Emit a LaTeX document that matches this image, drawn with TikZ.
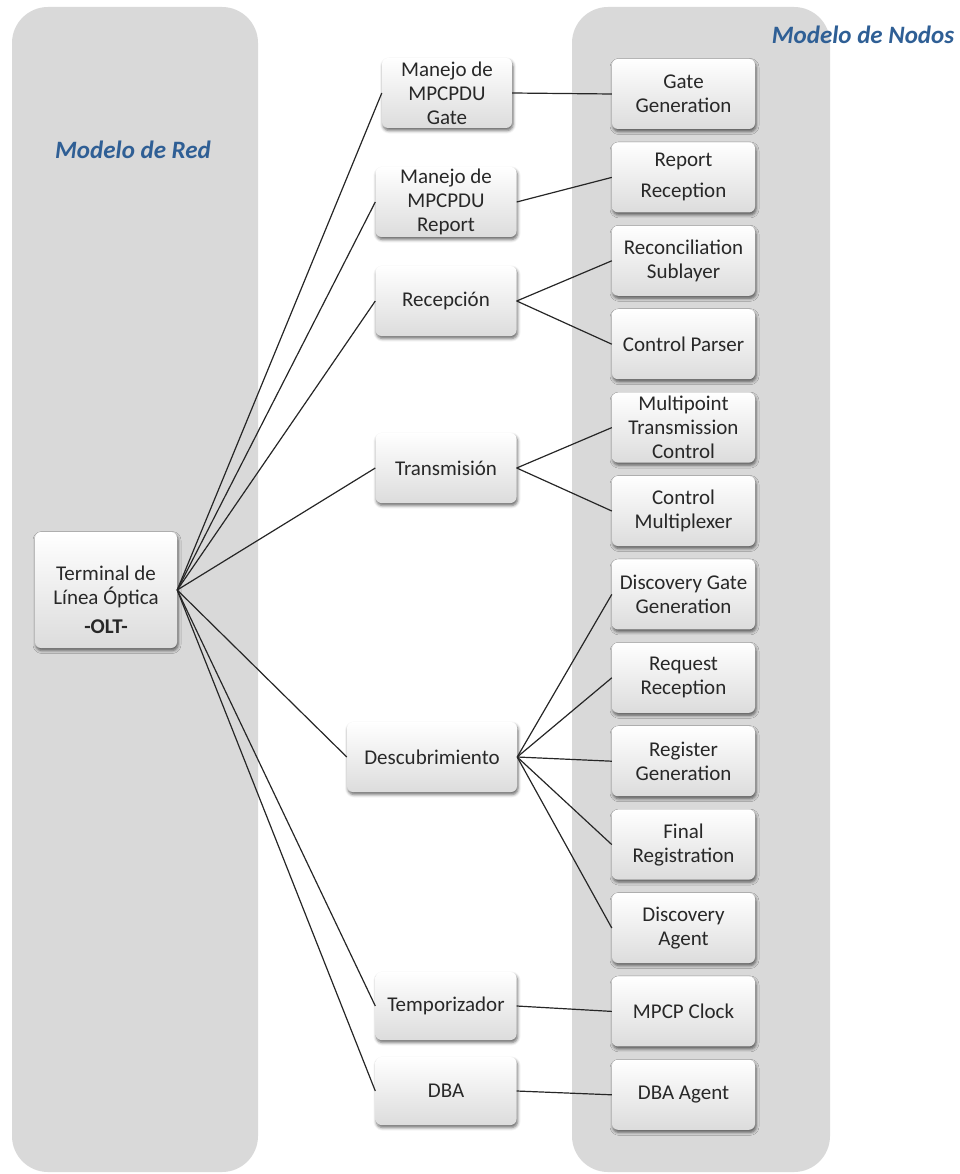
\documentclass[tikz,border=0pt]{standalone}
\usepackage{fontspec}
\setmainfont{Carlito}
\usepackage{tikz}
\usetikzlibrary{positioning,shadows.blur}
\definecolor{panelgray}{RGB}{217,217,217}
\definecolor{titleblue}{RGB}{47,95,149}
\definecolor{boxbottom}{RGB}{220,220,220}
\definecolor{textgray}{RGB}{40,40,40}

\begin{document}
\begin{tikzpicture}[x=1pt,y=-1pt,
    modbox/.style={rounded corners=6pt, top color=white, bottom color=boxbottom, align=center,
        minimum height=70pt, inner sep=0pt, text=textgray, font=\fontsize{21}{24}\selectfont,
        blur shadow={shadow xshift=1pt, shadow yshift=-2.5pt, shadow blur radius=3pt, shadow opacity=60}},
    redbox/.style={modbox, minimum width=141pt},
    nodobox/.style={modbox, minimum width=143pt},
    link/.style={draw=black!85, line width=1.2pt},
    titulo/.style={font=\fontsize{25}{28}\selectfont\bfseries\itshape, text=titleblue}
]
            \useasboundingbox (0,0) rectangle (960,1174);
            \fill[panelgray, rounded corners=36pt] (12,7) rectangle (258,1172);
            \fill[panelgray, rounded corners=36pt] (572,7) rectangle (830,1172);

            \node[titulo] (tituloRed) at (133,150) {Modelo de Red};
            \node[titulo] (tituloNodos) at (863,35) {Modelo de Nodos};

            % Modelo de Red
            \node[modbox, minimum width=142pt, minimum height=116pt] (olt) at (106,590)
                {\rule{0pt}{34pt}Terminal de\\Línea Óptica\\[5pt]\textbf{-OLT-}};
            \node[redbox, minimum width=130pt] (gate) at (447,93) {Manejo de\\MPCPDU\\Gate};
            \node[redbox] (report) at (446,202) {Manejo de\\MPCPDU\\Report};
            \node[redbox] (recep) at (446,301) {Recepción};
            \node[redbox] (trans) at (446,468) {Transmisión};
            \node[redbox, minimum width=170pt] (descub) at (432,757) {Descubrimiento};
            \node[redbox, minimum height=68pt] (tempo) at (446,1006) {Temporizador};
            \node[redbox, minimum height=68pt] (dba) at (446,1091) {DBA};

            % Modelo de Nodos
            \node[nodobox] (gategen) at (683.5,94) {Gate\\Generation};
            \node[nodobox, below=13pt of gategen] (reprec) {Report\\[7pt]Reception};
            \node[nodobox, below=13pt of reprec] (recsub) {Reconciliation\\Sublayer};
            \node[nodobox, below=13pt of recsub] (ctrlpar) {Control Parser};
            \node[nodobox, below=13pt of ctrlpar] (mpcontrol) {Multipoint\\Transmission\\Control};
            \node[nodobox, below=13pt of mpcontrol] (ctrlmux) {Control\\Multiplexer};
            \node[nodobox, below=13pt of ctrlmux] (discgate) {Discovery Gate\\Generation};
            \node[nodobox, below=13pt of discgate] (reqrec) {Request\\Reception};
            \node[nodobox, below=13pt of reqrec] (reggen) {Register\\Generation};
            \node[nodobox, below=13pt of reggen] (finreg) {Final\\Registration};
            \node[nodobox, below=13pt of finreg] (discagent) {Discovery\\Agent};
            \node[nodobox, below=13pt of discagent] (clock) {MPCP Clock};
            \node[nodobox, below=13pt of clock] (dbaagent) {DBA Agent};

            \foreach \dest in {gate,report,recep,trans,descub,tempo,dba}
                \draw[link] (olt.east) -- (\dest.west);
            \draw[link] (gate.east) -- (gategen.west);
            \draw[link] (report.east) -- (reprec.west);
            \foreach \dest in {recsub,ctrlpar}
                \draw[link] (recep.east) -- (\dest.west);
            \foreach \dest in {mpcontrol,ctrlmux}
                \draw[link] (trans.east) -- (\dest.west);
            \foreach \dest in {discgate,reqrec,reggen,finreg,discagent}
                \draw[link] (descub.east) -- (\dest.west);
            \draw[link] (tempo.east) -- (clock.west);
            \draw[link] (dba.east) -- (dbaagent.west);
        \end{tikzpicture}
\end{document}
